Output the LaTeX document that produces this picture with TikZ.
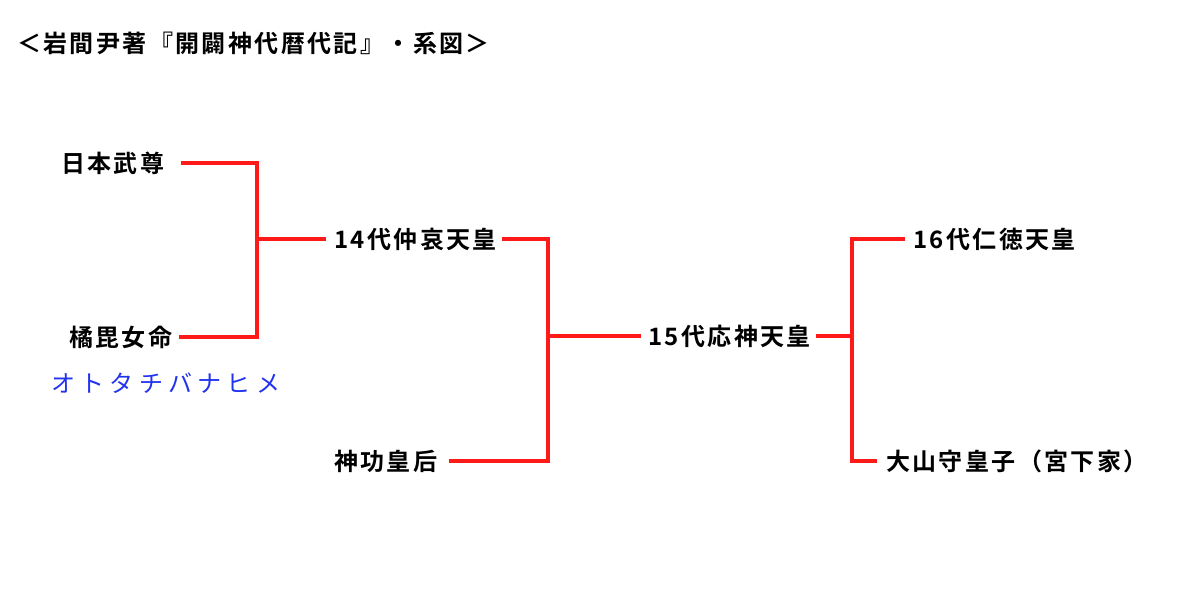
\documentclass[tikz,border=0pt]{standalone}
\usepackage{fontspec}
\newfontfamily\jpb[LetterSpace=10]{Noto Sans CJK JP Bold}
\newfontfamily\jpt[LetterSpace=10]{Noto Sans CJK JP Bold}
\newfontfamily\jpk[LetterSpace=22]{Noto Sans CJK JP}
\definecolor{linered}{HTML}{FF1A1A}
\definecolor{kanablue}{HTML}{2233EE}
\begin{document}
\begin{tikzpicture}[x=1pt,y=-1pt,
  person/.style={anchor=west,inner sep=0pt,font=\jpb\fontsize{24}{24}\selectfont},
  kana/.style={anchor=west,inner sep=0pt,text=kanablue,font=\jpk\fontsize{24}{24}\selectfont},
  titletext/.style={anchor=west,inner sep=0pt,font=\jpt\fontsize{24}{24}\selectfont},
  rel/.style={draw=linered,line width=3.2pt}]
\useasboundingbox (0,0) rectangle (1200,593);
\node[titletext] (title) at (17,43) {＜岩間尹著『開闢神代暦代記』・系図＞};
\node[person] (yamato) at (61,163) {日本武尊};
\node[person] (tachibana) at (69,337) {橘毘女命};
\node[kana] (ototachi) at (51,383) {オトタチバナヒメ};
\node[person] (chuai) at (334,239) {14代仲哀天皇};
\node[person] (jingu) at (334,461) {神功皇后};
\node[person] (ojin) at (648,336) {15代応神天皇};
\node[person] (nintoku) at (913,239) {16代仁徳天皇};
\node[person] (oyamamori) at (886,461) {大山守皇子（宮下家）};
% generation 1
\draw[rel] ([xshift=16pt]yamato.east) -- (257,163) -- (257,337) -- ([xshift=6pt]tachibana.east);
\draw[rel] (257,239) -- ([xshift=-8pt]chuai.west);
% generation 2
\draw[rel] ([xshift=5pt]chuai.east) -- (548,239) -- (548,461) -- ([xshift=11pt]jingu.east);
\draw[rel] (548,336) -- ([xshift=-7pt]ojin.west);
% generation 3
\draw[rel] ([xshift=5pt]ojin.east) -- (852,336);
\draw[rel] ([xshift=-8pt]nintoku.west) -- (852,239) -- (852,461) -- ([xshift=-9pt]oyamamori.west);
\end{tikzpicture}
\end{document}
